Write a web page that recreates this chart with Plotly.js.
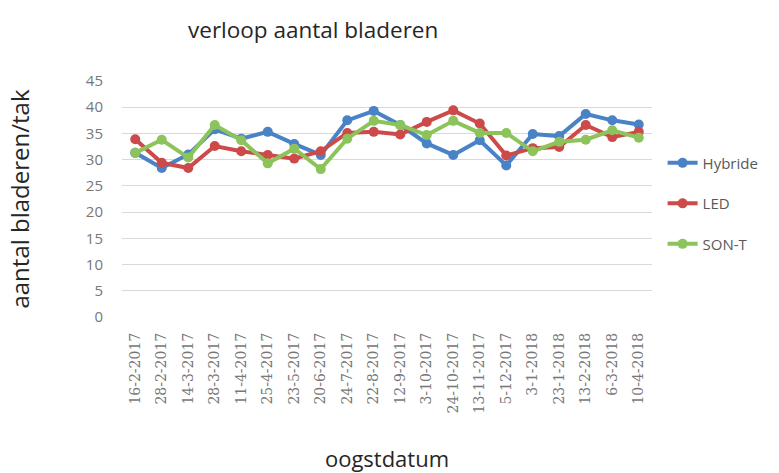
<!DOCTYPE html>
<html>
<head>
<meta charset="utf-8">
<script src="https://cdn.plot.ly/plotly-3.0.1.min.js"></script>
<style>html,body{margin:0;padding:0;background:#fff}#chart{width:779px;height:473px}</style>
</head>
<body>
<div id="chart"></div>
<script>
var dates = ["16-2-2017","28-2-2017","14-3-2017","28-3-2017","11-4-2017","25-4-2017","23-5-2017","20-6-2017","24-7-2017","22-8-2017","12-9-2017","3-10-2017","24-10-2017","13-11-2017","5-12-2017","3-1-2018","23-1-2018","13-2-2018","6-3-2018","10-4-2018"];
var hybride = [31.3, 28.4, 31.0, 35.8, 34.0, 35.3, 33.0, 30.9, 37.5, 39.3, 36.6, 33.1, 30.9, 33.7, 28.9, 34.9, 34.5, 38.7, 37.5, 36.7];
var led     = [33.9, 29.4, 28.4, 32.6, 31.6, 30.9, 30.2, 31.6, 35.1, 35.3, 34.8, 37.2, 39.4, 36.9, 30.8, 32.2, 32.4, 36.6, 34.3, 35.3];
var sont    = [31.3, 33.8, 30.4, 36.6, 33.7, 29.3, 32.1, 28.2, 34.0, 37.4, 36.6, 34.7, 37.4, 35.1, 35.1, 31.6, 33.4, 33.8, 35.6, 34.2];

var colors = {Hybride: "#4a82c6", LED: "#cd4a4a", "SON-T": "#8cc35a"};
function mk(name, ys, g) {
  return {
    x: dates, y: ys, name: name, type: "scatter", mode: "lines+markers",
    legendgroup: g,
    line: {color: colors[name], width: 4},
    marker: {color: colors[name], size: 10}
  };
}
var data = [mk("Hybride", hybride, "a"), mk("LED", led, "b"), mk("SON-T", sont, "c")];

var layout = {
  width: 779, height: 473,
  margin: {l: 122, r: 127, t: 81, b: 156},
  paper_bgcolor: "#fff", plot_bgcolor: "#fff",
  font: {family: "Open Sans, Liberation Sans, sans-serif", color: "#6f6f6f"},
  title: {text: "verloop aantal bladeren", x: 0.402, xanchor: "center", y: 0.937, yanchor: "middle",
          font: {size: 22.5, color: "#262626"}},
  xaxis: {
    type: "category", range: [-0.5, 19.5], tickangle: -90,
    tickfont: {family: "DejaVu Serif, Liberation Serif, serif", size: 14, color: "#777"},
    ticklabelstandoff: 12,
    showgrid: false, showline: false, ticks: "", zeroline: false,
    title: {text: "oogstdatum", font: {size: 22, color: "#262626"}, standoff: 41}
  },
  yaxis: {
    range: [0, 45], dtick: 5, tick0: 0,
    tickfont: {size: 15, color: "#777"},
    gridcolor: "#d9d9d9", gridwidth: 1, zeroline: false, showline: false, ticks: "",
    ticklabelstandoff: 18,
    title: {text: "aantal bladeren/tak", font: {size: 24, color: "#262626"}, standoff: 49}
  },
  showlegend: true,
  legend: {
    x: 1.02, y: 0.722, xanchor: "left", yanchor: "top",
    traceorder: "grouped", tracegroupgap: 18,
    font: {size: 15, color: "#595959"}, bgcolor: "rgba(0,0,0,0)"
  }
};
Plotly.newPlot("chart", data, layout, {displayModeBar: false, staticPlot: true});
</script>
</body>
</html>
